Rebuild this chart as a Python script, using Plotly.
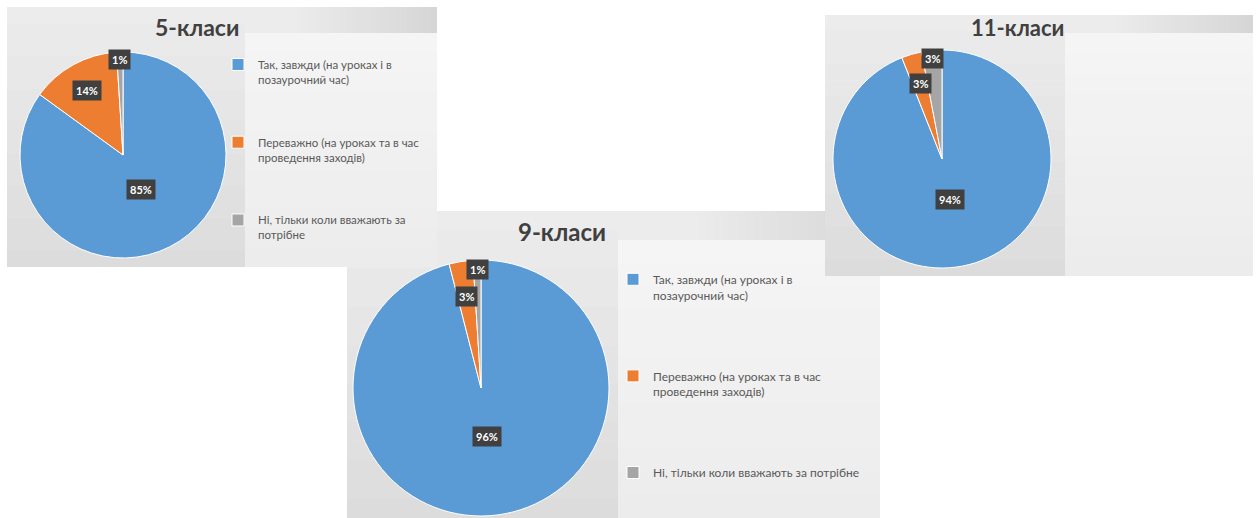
import math
import textwrap
import plotly.graph_objects as go

W, H = 1259, 518

# ---------------- data ----------------
categories = [
    "Так, завжди (на уроках і в позаурочний час)",
    "Переважно (на уроках та в час проведення заходів)",
    "Ні, тільки коли вважають за потрібне",
]
slice_colors = ["#5B9BD5", "#ED7D31", "#A5A5A5"]

titles = ["5-класи", "9-класи", "11-класи"]
values_5 = [85, 14, 1]
values_9 = [96, 3, 1]
values_11 = [94, 3, 3]
all_values = [values_5, values_9, values_11]

# ---------------- layout / style (pixels) ----------------
FONT = "Lato, 'Noto Sans', sans-serif"
panels = [
    dict(box=(7, 7, 437, 267), cx=123, cy=155, R=103,
         title_xy=(197, 27), title_size=23,
         leg_x=218, leg_top=50.5, leg_fs=11.5, wrap=29, nlines=5, legend="legend",
         leg_box=(245, 33), strip_x=290),
    dict(box=(347, 211, 880, 518), cx=481, cy=388, R=128,
         title_xy=(562, 231), title_size=24,
         leg_x=613, leg_top=265, leg_fs=12, wrap=36, nlines=6, legend="legend2",
         leg_box=(618, 240), strip_x=690),
    dict(box=(825, 15, 1253, 276), cx=942, cy=159, R=109,
         title_xy=(1017, 27), title_size=22,
         leg_x=1052, leg_top=54.4, leg_fs=11.8, wrap=29, nlines=5, legend="legend3",
         leg_box=(1065, 33), strip_x=1110),
]
label_radius = [0.38, 0.72, 0.93]   # radial position of the percent boxes, per category
draw_order = [1, 0, 2]              # panel 9 behind panel 5 and 11


def px(x):
    return x / W


def py(y):
    return 1 - y / H


def hexmix(c1, c2, t):
    a = [int(c1[i:i + 2], 16) for i in (1, 3, 5)]
    b = [int(c2[i:i + 2], 16) for i in (1, 3, 5)]
    return "#%02x%02x%02x" % tuple(round(a[k] + (b[k] - a[k]) * t) for k in range(3))


def rect(xa, ya, xb, yb, color):
    return dict(type="rect", xref="paper", yref="paper", layer="below",
                x0=px(xa), x1=px(xb), y0=py(yb), y1=py(ya),
                fillcolor=color, line=dict(width=0))


fig = go.Figure()
shapes = []
annotations = []

for idx in draw_order:
    p = panels[idx]
    x0, y0, x1, y1 = p["box"]
    lx0, ly0 = p["leg_box"]
    # body: soft vertical gradient (lighter at the top)
    m = 16
    for k in range(m):
        a = y0 + (y1 - y0) * k / m
        b = y0 + (y1 - y0) * (k + 1) / m + 0.6
        shapes.append(rect(x0, a, lx0, min(b, y1), hexmix("#ececec", "#dcdcdc", (k + 0.5) / m)))
    # top strip gradient (light -> grey towards the right)
    n = 24
    sx = p["strip_x"]
    for k in range(n):
        a = sx + (x1 - sx) * k / n
        b = sx + (x1 - sx) * (k + 1) / n + 0.6
        shapes.append(rect(a, y0, min(b, x1), ly0, hexmix("#ececec", "#d6d6d6", (k + 0.5) / n)))
    shapes.append(rect(lx0, y0, sx, ly0, "#ececec"))
    # legend area
    m = 12
    for k in range(m):
        a = ly0 + (y1 - ly0) * k / m
        b = ly0 + (y1 - ly0) * (k + 1) / m + 0.6
        shapes.append(rect(lx0, a, x1, min(b, y1), hexmix("#f5f5f5", "#ececec", (k + 0.5) / m)))

for idx, p in enumerate(panels):
    vals = all_values[idx]
    total = sum(vals)
    cx, cy, R = p["cx"], p["cy"], p["R"]

    # legend labels: wrapped; all but the last padded to a fixed number of lines for spacing
    leg_labels = []
    for j, c in enumerate(categories):
        lines = textwrap.wrap(c, p["wrap"])
        if j < len(categories) - 1:
            lines += [" "] * (p["nlines"] - len(lines))
        leg_labels.append("<br>".join(lines))

    fig.add_trace(go.Pie(
        labels=leg_labels, values=vals, sort=False, direction="clockwise", rotation=0,
        marker=dict(colors=slice_colors, line=dict(color="#ffffff", width=1)),
        textinfo="none", hovertemplate="%{value}%<extra></extra>",
        domain=dict(x=[px(cx - R), px(cx + R)], y=[py(cy + R), py(cy - R)]),
        legend=p["legend"], showlegend=True,
    ))

    # percent boxes at slice mid-angles
    cum = 0
    for k, v in enumerate(vals):
        theta = 2 * math.pi * (cum + v / 2) / total
        cum += v
        r = label_radius[k] * R
        lxp = cx + r * math.sin(theta)
        lyp = cy - r * math.cos(theta)
        annotations.append(dict(
            x=px(lxp), y=py(lyp), xref="paper", yref="paper", showarrow=False,
            text="<b>%d%%</b>" % round(100 * v / total),
            font=dict(family=FONT, size=11, color="#ffffff"),
            bgcolor="#404040", borderpad=3, xanchor="center", yanchor="middle"))

    # title
    tx, ty = p["title_xy"]
    annotations.append(dict(
        x=px(tx), y=py(ty), xref="paper", yref="paper", showarrow=False,
        text="<b>%s</b>" % titles[idx],
        font=dict(family=FONT, size=p["title_size"], color="#404040"),
        xanchor="center", yanchor="middle"))

layout = dict(
    width=W, height=H, margin=dict(l=0, r=0, t=0, b=0, autoexpand=False),
    paper_bgcolor="#ffffff", plot_bgcolor="#ffffff",
    shapes=shapes, annotations=annotations,
)
for p in panels:
    layout[p["legend"]] = dict(
        x=px(p["leg_x"]), y=py(p["leg_top"]), xanchor="left", yanchor="top",
        bgcolor="rgba(0,0,0,0)", borderwidth=0, valign="top",
        font=dict(family=FONT, size=p["leg_fs"], color="#595959"),
        itemclick=False, itemdoubleclick=False,
    )
fig.update_layout(**layout)

fig.write_html("out.html", config={"displayModeBar": False},
               post_script="document.body.style.margin='0';")
